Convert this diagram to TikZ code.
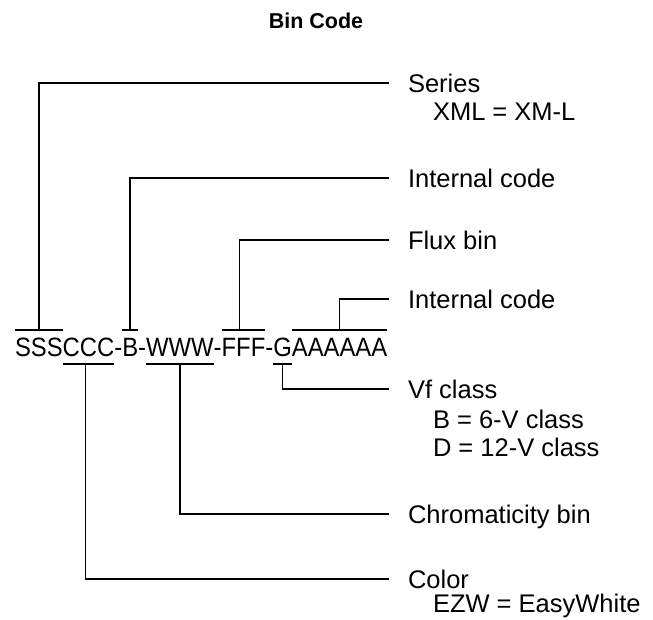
\documentclass[tikz,border=0pt]{standalone}
\usepackage{fontspec}
\setmainfont{Liberation Sans}
\newfontfamily\codefont[FakeStretch=0.9]{Liberation Sans}
\begin{document}
\begin{tikzpicture}[x=1pt,y=-1pt,
  seg/.style={font=\codefont\fontsize{26.5}{30}\selectfont, inner sep=0pt, outer sep=0pt, anchor=base west},
  lbl/.style={font=\fontsize{25.5}{30}\selectfont, inner xsep=20pt, inner ysep=0pt, outer sep=0pt, anchor=west, text height=18.3pt, text depth=0pt},
  sub/.style={font=\fontsize{25.5}{30}\selectfont, inner sep=0pt, outer sep=0pt, anchor=west, text height=18.3pt, text depth=0pt},
  wire/.style={line width=1.6pt, line cap=rect},
  bar/.style={line width=1.6pt}]
\useasboundingbox (0,0) rectangle (653,619);
\node[font=\bfseries\fontsize{21.5}{26}\selectfont, inner sep=0pt] (title) at (316,21) {Bin Code};
% code string
\node[seg] (s1) at (15,356) {SSS};
\node[seg] (s2) at (s1.base east) {CCC};
\node[seg] (h1) at (s2.base east) {-};
\node[seg] (s3) at (h1.base east) {B};
\node[seg] (h2) at (s3.base east) {-};
\node[seg] (s4) at (h2.base east) {WWW};
\node[seg] (h3) at (s4.base east) {-};
\node[seg] (s5) at (h3.base east) {FFF};
\node[seg] (h4) at (s5.base east) {-};
\node[seg] (s6) at (h4.base east) {G};
\node[seg] (s7) at (s6.base east) {AAAAAA};
\coordinate (ovl) at (0,330);
\coordinate (unl) at (0,364);
% labels
\node[lbl] (series) at (388,83) {Series};
\node[sub] (seriesA) at (433,111) {XML = XM-L};
\node[lbl] (int1) at (388,178) {Internal code};
\node[lbl] (flux) at (388,240) {Flux bin};
\node[lbl] (int2) at (388,299) {Internal code};
\node[lbl] (vf) at (388,389) {Vf class};
\node[sub] (vfA) at (433,419) {B = 6-V class};
\node[sub] (vfB) at (433,447) {D = 12-V class};
\node[lbl] (chrom) at (388,514) {Chromaticity bin};
\node[lbl] (color) at (388,579) {Color};
\node[sub] (colorA) at (433,603) {EZW = EasyWhite};
% over bars
\foreach \n in {s1,s3,s5,s7}{\draw[bar] (\n.west |- ovl) -- (\n.east |- ovl);}
\foreach \n in {s2,s4,s6}{\draw[bar] (\n.west |- unl) -- (\n.east |- unl);}
% connectors
\draw[wire] (s1.center |- ovl) |- (series.west);
\draw[wire] (s3.center |- ovl) |- (int1.west);
\draw[wire] ([xshift=-4pt]s5.center |- ovl) |- (flux.west);
\draw[wire] (s7.center |- ovl) |- (int2.west);
\draw[wire] (s6.center |- unl) |- (vf.west);
\draw[wire] (s4.center |- unl) |- (chrom.west);
\draw[wire] ([xshift=-3pt]s2.center |- unl) |- (color.west);
\end{tikzpicture}
\end{document}
